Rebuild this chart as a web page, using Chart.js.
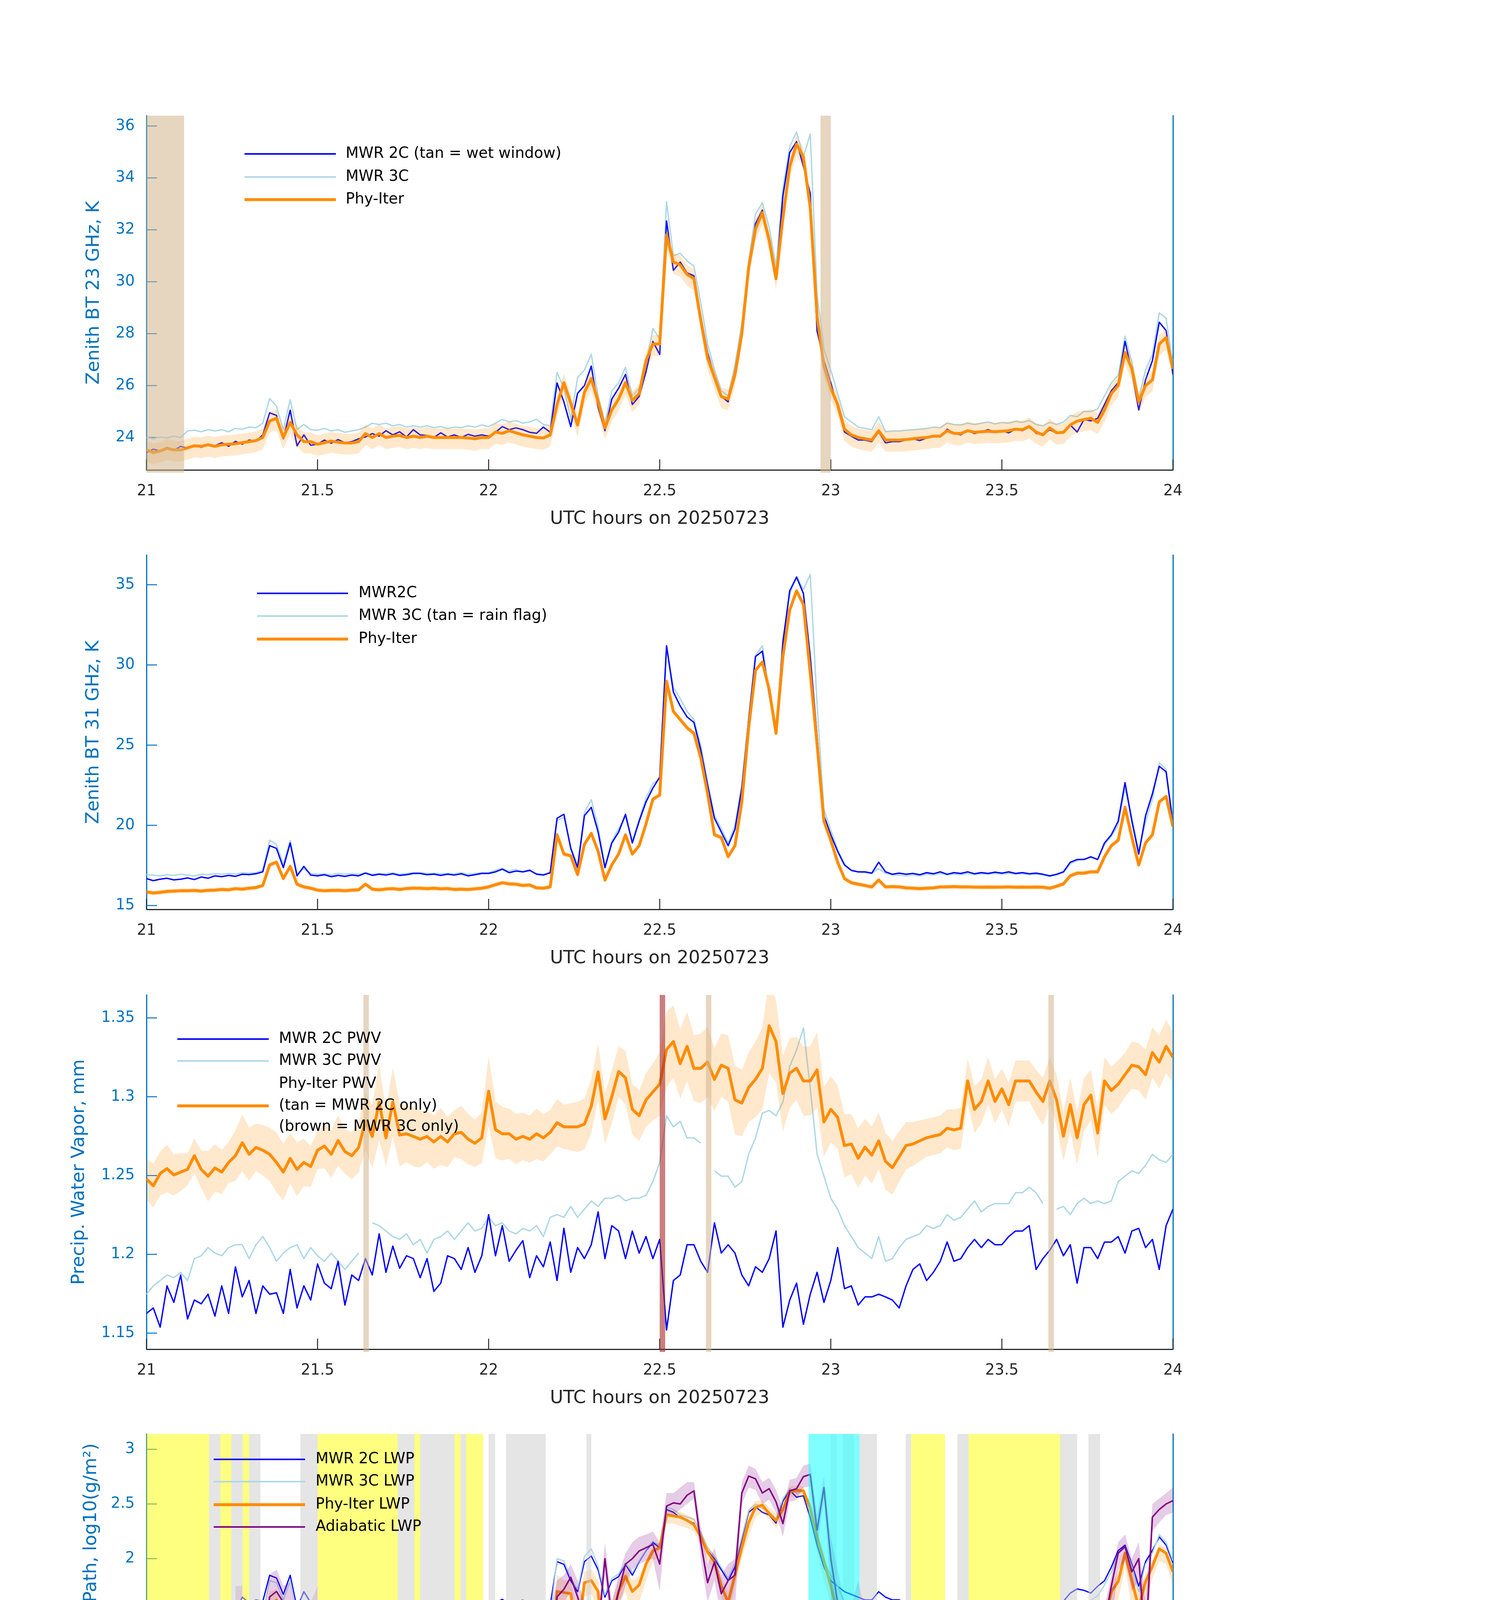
<!DOCTYPE html>
<html>
<head>
<meta charset="utf-8">
<title>MWR / Phy-Iter comparison, 20250723</title>
<script src="https://cdn.jsdelivr.net/npm/chart.js@4.4.1/dist/chart.umd.min.js"></script>
<style>
  html, body { margin: 0; padding: 0; background: #fff; }
  body { width: 3825px; height: 6000px; position: relative; overflow: hidden; }
  .panel { position: absolute; left: 0; width: 3825px; height: 1125px; }
</style>
</head>
<body>
<div class="panel" style="top:236px"><canvas id="bt23"></canvas></div>
<div class="panel" style="top:1361px"><canvas id="bt31"></canvas></div>
<div class="panel" style="top:2487px"><canvas id="pwv"></canvas></div>
<div class="panel" style="top:3611px"><canvas id="lwp"></canvas></div>
<div class="panel" style="top:4735px"><canvas id="dq"></canvas></div>
<script>
const _ = null;

// sample grid of the MWR / Phy-Iter series (hours UTC)
const T0 = 21, DT = 0.02;
// DQ flag grid (45 s)
const DQ_T0 = 21.00625, DQ_DT = 0.0125;

const hourTicks = [21, 21.5, 22, 22.5, 23, 23.5, 24];

// ---- 23 GHz brightness temperature, K
const bt23Mwr2c = [
  23.42,23.55,23.48,23.62,23.50,23.66,23.58,23.70,23.62,23.72,
  23.68,23.80,23.66,23.85,23.74,23.90,23.86,24.10,24.95,24.85,
  23.95,25.05,23.68,24.10,23.70,23.74,23.90,23.78,23.92,23.80,
  23.84,23.95,24.02,24.15,24.05,24.26,24.10,24.22,24.02,24.30,
  24.10,24.08,24.00,24.18,24.02,24.10,24.00,24.12,24.05,24.10,
  24.05,24.20,24.42,24.30,24.37,24.30,24.20,24.16,24.40,24.20,
  26.10,25.37,24.42,25.70,26.00,26.75,25.16,24.26,25.48,25.90,
  26.43,25.27,25.58,26.53,27.70,27.20,32.34,30.44,30.76,30.34,
  30.23,28.65,27.27,26.32,25.58,25.37,26.53,28.00,30.55,32.24,
  32.76,31.60,30.12,33.30,34.98,35.40,34.45,33.40,28.10,26.96,
  26.11,25.16,24.21,24.05,23.90,23.90,23.84,24.21,23.79,23.84,
  23.84,23.90,23.95,23.88,23.98,24.05,24.02,24.32,24.16,24.10,
  24.26,24.15,24.22,24.30,24.20,24.26,24.18,24.32,24.26,24.42,
  24.16,24.10,24.30,24.16,24.21,24.48,24.21,24.69,24.64,24.74,
  25.27,25.80,26.11,27.70,26.53,25.06,26.22,26.96,28.44,28.12,
  26.43];
const bt23Mwr3c = [
  24.00,23.95,24.02,23.98,24.05,24.00,24.25,24.28,24.22,24.30,
  24.25,24.30,24.22,24.35,24.32,24.40,24.38,24.55,25.50,25.20,
  24.30,25.45,24.30,24.50,24.30,24.28,24.35,24.25,24.30,24.20,
  24.25,24.30,24.40,24.55,24.50,24.55,24.45,24.50,24.40,24.45,
  24.40,24.45,24.38,24.42,24.35,24.40,24.38,24.45,24.40,24.48,
  24.42,24.55,24.70,24.60,24.65,24.55,24.60,24.70,24.50,24.45,
  26.50,25.90,24.70,26.30,26.60,27.20,25.60,24.55,25.80,26.10,
  26.70,25.60,25.90,26.80,28.20,27.80,33.08,31.00,31.10,30.80,
  30.60,29.20,27.60,26.60,25.80,25.60,26.80,28.40,30.80,32.60,
  33.05,32.10,30.60,33.60,35.20,35.77,34.80,35.70,29.50,27.40,
  26.60,25.70,24.80,24.60,24.40,24.35,24.30,24.80,24.22,24.25,
  24.25,24.28,24.30,24.32,24.35,24.40,24.38,24.55,24.50,24.48,
  24.55,24.50,24.55,24.60,24.52,24.58,24.55,24.62,24.58,24.65,
  24.50,24.45,24.58,24.50,24.60,24.85,24.80,25.00,25.00,25.10,
  25.60,26.10,26.40,27.90,26.90,25.50,26.60,27.20,28.80,28.60,
  26.80];
const bt23Phy = [
  23.52,23.42,23.48,23.58,23.52,23.52,23.60,23.68,23.66,23.72,
  23.66,23.72,23.74,23.76,23.80,23.84,23.88,24.00,24.63,24.74,
  24.00,24.58,24.10,23.84,23.84,23.74,23.80,23.86,23.82,23.79,
  23.79,23.84,24.15,24.00,24.15,24.00,24.05,24.08,24.00,24.05,
  24.00,24.05,24.00,24.00,24.00,24.00,24.00,23.98,23.95,24.00,
  24.00,24.21,24.16,24.26,24.18,24.10,24.05,24.00,23.98,24.10,
  25.27,26.11,25.32,24.48,25.74,26.27,25.37,24.37,25.06,25.48,
  26.11,25.43,25.69,26.96,27.60,27.60,31.80,30.76,30.65,30.28,
  30.12,28.54,27.06,26.32,25.58,25.48,26.43,28.00,30.55,32.03,
  32.66,31.60,30.12,32.45,34.45,35.30,34.80,32.87,28.65,26.75,
  25.90,25.27,24.32,24.10,24.00,23.95,23.90,24.26,23.90,23.90,
  23.90,23.92,23.95,23.98,24.00,24.05,24.05,24.26,24.16,24.15,
  24.26,24.20,24.22,24.24,24.22,24.24,24.26,24.32,24.30,24.42,
  24.21,24.10,24.37,24.18,24.20,24.48,24.63,24.69,24.74,24.58,
  25.06,25.69,26.00,27.27,26.64,25.37,26.00,26.22,27.60,27.85,
  26.64];
const bt23UncUp = 0.35, bt23UncDown = 0.45;
const bt23WetWindow = [[21.0, 21.11], [22.97, 23.0]];

// ---- 31 GHz brightness temperature, K
const bt31Mwr2c = [
  16.68,16.55,16.64,16.70,16.60,16.64,16.72,16.62,16.78,16.70,
  16.85,16.80,16.88,16.82,16.95,16.93,16.98,17.10,18.73,18.56,
  17.36,18.90,16.85,17.44,16.90,16.85,16.92,16.80,16.88,16.82,
  16.90,16.85,17.02,16.88,16.95,16.90,16.98,16.88,16.92,17.00,
  17.00,16.92,16.96,16.88,16.95,16.90,16.98,16.85,16.92,17.00,
  17.00,17.10,17.27,17.05,17.15,17.10,17.20,16.95,16.90,17.05,
  20.44,20.69,18.56,17.36,20.60,21.12,19.58,17.36,18.90,19.58,
  20.69,18.90,20.26,21.46,22.32,23.00,31.20,28.30,27.44,26.76,
  26.42,24.71,22.49,20.44,19.58,18.73,19.75,22.32,26.59,30.52,
  30.86,28.13,25.74,31.38,34.62,35.48,34.45,30.52,25.56,20.60,
  19.41,18.38,17.53,17.19,17.10,17.10,17.02,17.70,17.10,16.95,
  17.02,16.95,17.00,16.92,17.05,16.98,17.10,16.95,17.05,17.00,
  17.10,16.98,17.05,17.00,17.08,17.02,17.10,17.00,17.05,16.98,
  17.02,16.95,16.85,16.95,17.10,17.70,17.87,17.87,18.04,17.87,
  18.90,19.41,20.26,22.66,20.26,18.21,20.60,21.97,23.68,23.34,
  20.09];
const bt31Mwr3c = [
  16.93,16.90,16.85,16.92,16.88,16.95,16.90,16.85,16.95,16.92,
  16.98,16.95,17.00,16.95,17.05,17.02,17.05,17.20,19.07,18.80,
  17.60,19.05,17.00,17.30,17.00,16.95,16.98,16.92,17.00,16.95,
  16.98,16.95,17.05,16.95,17.00,16.98,17.05,16.95,17.00,17.05,
  17.05,17.00,17.02,16.98,17.00,16.98,17.05,16.95,17.00,17.05,
  17.05,17.20,17.30,17.15,17.25,17.10,17.15,17.00,16.95,17.00,
  20.30,20.50,18.70,17.50,20.80,21.60,19.90,17.50,19.00,19.80,
  20.50,19.00,20.40,21.70,22.60,22.90,31.00,28.60,27.90,27.10,
  26.60,25.00,22.70,20.60,19.80,18.90,20.00,22.50,26.70,30.60,
  31.20,28.40,26.00,31.60,34.40,35.50,34.70,35.65,27.50,21.00,
  19.70,18.50,17.60,17.20,17.10,17.05,17.00,17.30,17.00,16.90,
  16.90,16.85,16.90,16.85,16.95,16.90,17.00,16.90,16.95,16.92,
  17.00,16.92,16.98,16.95,17.00,16.95,17.00,16.95,16.98,16.92,
  16.95,16.90,16.82,16.90,17.05,17.60,17.80,17.90,18.00,17.90,
  18.80,19.30,20.00,22.30,20.50,18.40,20.20,21.60,23.90,23.50,
  20.30];
const bt31Phy = [
  15.85,15.78,15.82,15.88,15.90,15.92,15.92,15.94,15.90,15.95,
  15.96,16.00,15.98,16.05,16.02,16.08,16.12,16.25,17.53,17.70,
  16.68,17.44,16.33,16.16,16.08,15.96,15.92,15.94,15.95,15.92,
  15.96,15.98,16.33,16.02,15.98,16.03,16.05,16.00,16.06,16.08,
  16.08,16.05,16.08,16.04,16.06,16.00,16.02,16.00,16.04,16.08,
  16.16,16.30,16.42,16.35,16.33,16.25,16.28,16.10,16.08,16.16,
  19.41,18.21,18.10,16.93,18.81,19.50,18.38,16.59,17.53,18.21,
  19.41,18.21,18.73,20.09,21.63,21.89,28.98,27.10,26.59,26.08,
  25.74,24.20,21.97,19.41,19.24,18.04,18.73,21.46,26.08,29.67,
  30.18,28.47,25.74,30.52,33.43,34.62,33.77,29.50,25.05,20.26,
  19.07,17.70,16.68,16.42,16.33,16.25,16.16,16.59,16.16,16.18,
  16.16,16.10,16.08,16.05,16.08,16.10,16.16,16.16,16.18,16.16,
  16.16,16.15,16.14,16.15,16.14,16.15,16.16,16.14,16.15,16.14,
  16.15,16.14,16.08,16.20,16.35,16.85,17.02,17.02,17.10,17.10,
  18.04,18.73,19.07,21.12,19.24,17.53,18.90,19.41,21.46,21.80,
  19.92];
const bt31Unc = 0.15;

// ---- precipitable water vapour, mm
const pwvMwr2c = [
  1.1625,1.1660,1.1538,1.1800,1.1695,1.1869,1.1590,1.1710,1.1686,1.1747,
  1.1608,1.1800,1.1625,1.1921,1.1730,1.1834,1.1625,1.1800,1.1747,1.1756,
  1.1625,1.1904,1.1660,1.1800,1.1710,1.1939,1.1817,1.1782,1.1956,1.1678,
  1.1869,1.1834,1.1973,1.1869,1.2130,1.1886,1.2052,1.1912,1.1991,1.1973,
  1.1852,1.1973,1.1765,1.1817,1.1991,1.1973,1.1904,1.2043,1.1886,1.1991,
  1.2252,1.1991,1.2182,1.1956,1.2026,1.2087,1.1852,1.1991,1.1921,1.2078,
  1.1834,1.2165,1.1886,1.2043,1.1973,1.2061,1.2269,1.1973,1.2182,1.2148,
  1.1973,1.2148,1.2008,1.2113,1.1973,1.2095,1.1520,1.1834,1.1869,1.2061,
  1.2061,1.1956,1.1886,1.2200,1.2008,1.2061,1.2008,1.1869,1.1800,1.1921,
  1.1886,1.1973,1.2148,1.1538,1.1710,1.1817,1.1556,1.1747,1.1886,1.1695,
  1.1834,1.2043,1.1782,1.1800,1.1678,1.1730,1.1730,1.1747,1.1730,1.1710,
  1.1660,1.1800,1.1904,1.1939,1.1834,1.1886,1.1956,1.2078,1.1956,1.1973,
  1.2043,1.2095,1.2043,1.2095,1.2061,1.2061,1.2113,1.2148,1.2148,1.2182,
  1.1904,1.1973,1.2026,1.2095,1.1991,1.2061,1.1817,1.2043,1.2043,1.1973,
  1.2078,1.2078,1.2113,1.2008,1.2148,1.2165,1.2043,1.2095,1.1904,1.2182,
  1.2287];
const pwvMwr3c = [
  1.1747,1.1800,1.1834,1.1869,1.1852,1.1886,1.1834,1.1973,1.1991,1.2043,
  1.2008,1.1991,1.2043,1.2061,1.2061,1.1973,1.2061,1.2113,1.2043,1.1956,
  1.2008,1.2043,1.2061,1.1973,1.2043,1.1991,1.1956,1.2008,1.1956,1.1904,
  1.1956,1.2008,_,1.2200,1.2182,1.2148,1.2113,1.2095,1.2130,1.2061,
  1.2095,1.2008,1.2095,1.2113,1.2148,1.2095,1.2148,1.2200,1.2148,1.2165,
  1.2235,1.2182,1.2200,1.2148,1.2130,1.2165,1.2148,1.2182,1.2113,1.2235,
  1.2252,1.2235,1.2304,1.2235,1.2287,1.2339,1.2304,1.2356,1.2356,1.2374,
  1.2339,1.2356,1.2356,1.2374,1.2461,1.2583,1.2879,1.2809,1.2844,1.2739,
  1.2739,1.2705,_,1.2530,1.2496,1.2496,1.2426,1.2461,1.2635,1.2739,
  1.2896,1.2913,1.2879,1.2966,1.3192,1.3296,1.3436,1.3053,1.2635,1.2496,
  1.2356,1.2287,1.2182,1.2113,1.2043,1.2008,1.1973,1.2113,1.1956,1.1973,
  1.2043,1.2095,1.2113,1.2130,1.2182,1.2165,1.2182,1.2252,1.2217,1.2235,
  1.2287,1.2339,1.2269,1.2304,1.2322,1.2322,1.2322,1.2391,1.2391,1.2426,
  1.2391,1.2322,_,1.2287,1.2304,1.2252,1.2322,1.2356,1.2322,1.2339,
  1.2322,1.2339,1.2461,1.2496,1.2530,1.2513,1.2565,1.2635,1.2600,1.2583,
  1.2635];
const pwvPhy = [
  1.2478,1.2435,1.2513,1.2544,1.2504,1.2522,1.2539,1.2626,1.2539,1.2496,
  1.2548,1.2522,1.2583,1.2626,1.2708,1.2635,1.2678,1.2661,1.2635,1.2583,
  1.2522,1.2609,1.2539,1.2583,1.2557,1.2661,1.2687,1.2635,1.2722,1.2652,
  1.2626,1.2678,1.2844,1.2748,1.2966,1.2739,1.2966,1.2757,1.2765,1.2748,
  1.2731,1.2748,1.2713,1.2748,1.2713,1.2765,1.2774,1.2731,1.2705,1.2739,
  1.3035,1.2792,1.2765,1.2765,1.2731,1.2748,1.2731,1.2765,1.2739,1.2774,
  1.2835,1.2809,1.2809,1.2809,1.2826,1.2940,1.3157,1.2860,1.3000,1.3160,
  1.3120,1.2920,1.2880,1.2980,1.3030,1.3080,1.3300,1.3350,1.3210,1.3320,
  1.3180,1.3180,1.3220,1.3110,1.3200,1.3180,1.2980,1.2960,1.3060,1.3110,
  1.3180,1.3450,1.3350,1.3020,1.3150,1.3180,1.3100,1.3100,1.3170,1.2840,
  1.2920,1.2870,1.2690,1.2700,1.2610,1.2680,1.2630,1.2720,1.2590,1.2550,
  1.2620,1.2690,1.2700,1.2720,1.2740,1.2750,1.2760,1.2800,1.2790,1.2800,
  1.3100,1.2920,1.2970,1.3100,1.2970,1.3050,1.2950,1.3100,1.3100,1.3100,
  1.3030,1.2970,1.3100,1.2980,1.2750,1.2950,1.2740,1.2950,1.3010,1.2770,
  1.3100,1.3040,1.3080,1.3140,1.3200,1.3190,1.3140,1.3280,1.3220,1.3320,
  1.3250];
const pwvPhyUnc = [
  .013,.014,.014,.015,.013,.012,.010,.011,.012,.016,
  .015,.014,.013,.016,.018,.017,.015,.016,.017,.019,
  .018,.016,.017,.015,.013,.012,.014,.015,.016,.014,
  .015,.016,.018,.020,.024,.018,.022,.020,.018,.019,
  .018,.016,.017,.018,.016,.015,.017,.016,.015,.016,
  .022,.018,.017,.016,.016,.015,.015,.016,.015,.014,
  .015,.014,.015,.016,.016,.017,.018,.016,.017,.016,
  .017,.016,.016,.017,.018,.020,.024,.023,.022,.022,
  .021,.022,.022,.020,.020,.021,.022,.021,.022,.024,
  .026,.030,.026,.024,.022,.020,.022,.022,.024,.022,
  .021,.020,.020,.019,.019,.018,.018,.018,.018,.017,
  .016,.015,.014,.013,.012,.012,.012,.012,.013,.013,
  .014,.015,.014,.015,.014,.013,.014,.013,.013,.013,
  .014,.015,.015,.016,.016,.017,.017,.017,.016,.016,
  .015,.015,.015,.014,.015,.015,.016,.016,.017,.017,
  .016];
const pwvOnly2c = [[21.634, 21.650], [22.635, 22.651], [23.636, 23.652]];
const pwvOnly3c = [[22.500, 22.516]];

// ---- log10 liquid water path, log10(g/m2)
const lwpMwr2c = [
  1.548,1.523,1.585,1.523,1.548,1.485,1.585,1.548,1.560,1.598,
  1.585,1.560,1.585,1.523,1.648,1.598,1.623,1.610,1.848,1.823,
  1.673,1.848,1.548,1.698,1.598,1.548,1.523,1.535,1.535,1.548,
  1.598,1.548,1.585,1.548,1.560,1.573,1.560,1.585,1.573,1.548,
  1.585,1.573,1.523,1.598,1.548,1.573,1.573,1.535,1.585,1.548,
  1.548,1.598,1.628,1.585,1.598,1.623,1.573,1.548,1.585,1.573,
  1.973,1.948,1.798,1.698,1.973,2.024,1.898,1.648,1.798,1.836,
  1.948,1.848,1.973,2.074,2.149,2.099,2.449,2.424,2.374,2.349,
  2.324,2.199,2.074,1.998,1.898,1.798,1.923,2.174,2.424,2.474,
  2.424,2.399,2.324,2.524,2.625,2.562,2.575,2.374,2.124,1.923,
  1.798,1.748,1.698,1.673,1.648,1.623,1.623,1.698,1.648,1.623,
  1.623,1.598,1.610,1.598,1.573,1.610,1.585,1.598,1.610,1.598,
  1.585,1.598,1.585,1.598,1.610,1.573,1.585,1.598,1.585,1.548,
  1.598,1.548,1.598,1.548,1.610,1.685,1.723,1.710,1.685,1.748,
  1.798,1.923,2.074,2.124,1.948,1.748,1.973,2.074,2.199,2.124,
  1.961];
const lwpMwr3c = [
  1.43,1.41,1.42,1.40,1.43,1.41,1.42,1.40,1.43,1.42,
  1.43,1.41,1.42,1.44,1.43,1.42,1.45,1.50,1.80,1.78,
  1.62,1.80,1.50,1.52,1.44,1.42,1.41,1.40,1.43,1.41,
  1.42,_,_,1.41,1.43,1.42,1.41,1.43,1.42,1.41,
  1.42,1.43,1.41,1.42,1.40,1.41,1.42,1.41,1.40,1.42,
  1.45,1.47,1.52,1.46,1.48,1.50,1.47,1.45,1.48,1.46,
  2.00,1.98,1.82,1.72,2.02,2.09,1.93,1.67,1.82,1.86,
  1.96,1.87,1.98,2.08,2.16,2.12,2.47,2.45,2.40,2.38,
  2.36,2.24,2.10,2.02,1.92,1.82,1.96,2.20,2.44,2.50,
  2.46,2.43,2.36,2.55,2.64,2.60,2.62,2.50,2.20,1.98,
  1.85,1.75,1.60,1.52,1.52,1.48,1.45,1.50,1.45,1.43,
  1.42,1.43,1.42,1.41,1.43,1.42,1.41,1.42,1.43,1.41,
  1.42,1.41,1.43,1.42,1.41,1.43,1.42,1.41,1.42,1.43,
  1.42,1.41,_,1.45,1.48,1.55,1.58,1.60,1.62,1.66,
  1.76,1.88,2.05,2.10,1.93,1.70,1.95,2.05,2.22,2.15,
  1.98];
const lwpPhy = [
  _,_,_,_,_,_,_,_,_,_,
  0.71,0.45,_,0.13,0.31,_,0.68,0.85,1.57,1.62,
  1.30,1.45,0.78,0.88,0.37,0.21,_,_,_,_,
  _,_,_,_,_,_,_,0.41,0.35,_,
  0.41,0.58,0.33,0.50,0.23,-0.30,_,_,_,_,
  -0.30,0.85,0.87,0.63,0.62,0.74,0.50,-0.30,0.30,0.90,
  1.70,1.69,1.68,1.30,1.78,1.80,1.70,1.00,1.45,1.70,
  1.84,1.70,1.76,1.95,2.07,2.10,2.40,2.39,2.38,2.35,
  2.31,2.20,2.06,1.97,1.75,1.60,1.85,2.10,2.33,2.47,
  2.49,2.41,2.35,2.45,2.61,2.625,2.62,2.46,2.20,1.98,
  1.75,1.50,1.28,1.13,1.05,0.93,0.92,1.14,0.92,0.97,
  0.80,0.60,_,_,_,_,_,0.75,0.64,0.78,
  -0.30,_,_,_,_,_,_,_,_,_,
  _,_,_,_,0.76,0.95,1.25,1.26,1.27,1.30,
  1.42,1.70,1.79,2.05,1.80,1.55,1.79,1.93,2.09,2.05,
  1.88];
const lwpAdiabatic = [
  _,_,_,_,_,_,_,_,_,_,
  1.12,1.13,_,1.49,1.48,_,1.13,1.20,1.65,1.70,
  1.60,1.60,1.30,1.13,1.14,1.50,_,_,_,_,
  _,_,_,_,_,_,_,1.03,1.03,_,
  1.03,1.03,1.035,1.04,1.035,_,_,_,_,_,
  1.07,1.08,1.11,1.035,1.04,1.04,1.25,1.05,1.39,1.10,
  1.65,1.72,1.83,1.65,1.45,1.33,1.335,2.00,1.45,1.70,
  1.95,2.00,2.07,2.10,2.13,1.95,2.48,2.51,2.50,2.58,
  2.62,2.15,1.78,1.97,1.68,1.80,1.85,2.60,2.755,2.73,
  2.60,2.64,2.52,2.32,2.62,2.64,2.75,2.77,2.26,2.65,
  2.00,1.60,1.12,1.12,1.60,1.11,1.11,1.42,1.37,1.45,
  1.26,1.12,_,_,_,_,_,1.20,1.30,1.13,
  1.13,_,_,_,_,_,_,_,_,_,
  _,_,_,_,1.05,1.05,1.10,1.25,1.05,1.05,
  1.40,1.75,2.05,2.11,1.88,2.00,1.21,2.38,2.45,2.50,
  2.53];
const lwpPhyHi = [
  _,_,_,_,_,_,_,_,_,_,
  1.20,1.20,_,1.15,1.15,_,1.20,1.25,1.70,1.72,
  1.45,1.55,1.00,1.05,0.60,0.50,_,_,_,_,
  _,_,_,_,_,_,_,1.22,1.22,1.22,
  1.22,1.22,1.22,1.22,1.22,1.22,_,_,_,_,
  1.30,1.30,1.30,1.30,1.30,1.30,1.30,1.30,1.30,1.20,
  1.85,1.80,1.80,1.50,1.88,1.90,1.80,1.30,1.60,1.80,
  1.92,1.80,1.84,1.98,2.12,2.15,2.45,2.44,2.43,2.40,
  2.37,2.26,2.12,2.03,1.82,1.70,1.92,2.22,2.45,2.53,
  2.53,2.47,2.41,2.53,2.66,2.67,2.66,2.46,2.22,1.98,
  1.85,1.65,1.45,1.40,1.30,1.22,1.22,1.22,1.22,1.22,
  1.22,1.22,_,_,_,_,_,1.00,1.00,1.00,
  1.00,_,_,_,_,_,_,_,_,_,
  _,_,_,_,1.30,1.35,1.45,1.45,1.45,1.45,
  1.55,1.78,1.86,2.10,1.88,1.70,1.86,1.99,2.13,2.10,
  1.95];
const lwpPhyLo = [
  _,_,_,_,_,_,_,_,_,_,
  -0.5,-0.5,_,-0.5,-0.5,_,-0.5,-0.5,1.40,1.45,
  0.90,1.00,-0.5,0.50,-0.5,-0.5,_,_,_,_,
  _,_,_,_,_,_,_,-0.5,-0.5,-0.5,
  -0.5,-0.5,-0.5,-0.5,-0.5,-0.5,_,_,_,_,
  -0.5,-0.5,-0.5,-0.5,-0.5,-0.5,-0.5,-0.5,-0.5,0.30,
  1.40,1.55,1.55,1.00,1.65,1.68,1.55,-0.5,1.20,1.60,
  1.70,1.45,1.60,1.80,1.98,2.02,2.32,2.32,2.30,2.28,
  2.25,2.12,1.98,1.88,1.65,1.45,1.75,2.00,2.20,2.38,
  2.42,2.36,2.28,2.38,2.56,2.57,2.55,2.33,2.05,1.80,
  1.60,1.30,0.90,0.60,-0.5,-0.5,-0.5,-0.5,-0.5,-0.5,
  -0.5,-0.5,_,_,_,_,_,-0.5,-0.5,-0.5,
  -0.5,_,_,_,_,_,_,_,_,_,
  _,_,_,_,-0.5,-0.5,0.30,0.60,0.70,0.90,
  1.00,1.45,1.62,1.92,1.55,0.30,1.60,1.82,1.98,1.95,
  1.75];
const lwpAdiabaticHi = [
  _,_,_,_,_,_,_,_,_,_,
  1.46,1.46,_,1.75,1.75,_,1.45,1.45,1.85,1.90,
  1.75,1.78,1.50,1.55,1.60,1.75,_,_,_,_,
  _,_,_,_,_,_,_,1.385,1.385,1.385,
  1.385,1.385,1.385,1.385,1.385,1.385,_,_,_,_,
  1.52,1.52,1.52,1.52,1.52,1.52,1.52,1.52,1.52,1.52,
  1.80,1.85,1.95,1.80,1.60,1.50,1.50,2.15,1.60,1.85,
  2.05,2.15,2.20,2.22,2.25,2.15,2.60,2.60,2.65,2.70,
  2.70,2.30,1.95,2.10,1.85,1.95,2.00,2.70,2.85,2.82,
  2.70,2.74,2.63,2.45,2.72,2.74,2.85,2.87,2.40,2.75,
  2.20,1.90,1.60,1.55,1.80,1.52,1.52,1.52,1.52,1.52,
  1.52,1.52,_,_,_,_,_,1.585,1.585,1.585,
  1.585,_,_,_,_,_,_,_,_,_,
  _,_,_,_,1.50,1.50,1.50,1.50,1.50,1.50,
  1.55,1.85,2.15,2.22,2.00,2.15,1.60,2.50,2.55,2.60,
  2.65];
const lwpAdiabaticLo = [
  _,_,_,_,_,_,_,_,_,_,
  0.52,0.52,_,0.52,0.52,_,0.52,0.52,1.50,1.55,
  1.45,1.45,1.05,0.55,0.55,0.55,_,_,_,_,
  _,_,_,_,_,_,_,0.433,0.433,0.433,
  0.433,0.433,0.433,0.433,0.433,0.433,_,_,_,_,
  0.45,0.45,0.45,0.45,0.45,0.45,0.45,0.45,0.45,0.45,
  1.50,1.60,1.70,1.50,1.30,1.15,1.15,1.85,1.25,1.55,
  1.75,1.90,1.95,1.98,2.00,1.70,2.40,2.40,2.45,2.50,
  2.55,2.00,1.60,1.80,1.45,1.60,1.55,2.50,2.65,2.63,
  2.50,2.54,2.42,2.20,2.52,2.54,2.65,2.66,2.10,2.55,
  1.70,0.80,0.55,0.55,0.55,0.52,0.52,0.52,0.52,0.52,
  0.52,0.52,_,_,_,_,_,0.53,0.53,0.53,
  0.53,_,_,_,_,_,_,_,_,_,
  _,_,_,_,0.446,0.446,0.446,0.446,0.446,0.446,
  0.90,1.40,1.90,1.98,1.70,1.80,0.75,2.25,2.33,2.40,
  2.42];
// single retrievals surrounded by gaps
const lwpIsoTime = [21.925];
const lwpPhyIso = [0.28];
const lwpAdiabaticIso = [1.034];
// quality windows (hours)
const lwpYellow = [[21.0,21.183],[21.216,21.248],[21.281,21.30],[21.50,21.734],[21.783,21.80],
  [21.90,21.918],[21.934,21.984],[23.235,23.334],[23.403,23.67]];
const lwpGrey = [[21.183,21.216],[21.248,21.281],[21.30,21.333],[21.45,21.50],[21.734,21.783],
  [21.80,21.90],[21.918,21.934],[22.0,22.019],[22.051,22.167],[22.286,22.30],[23.084,23.135],
  [23.219,23.235],[23.37,23.403],[23.67,23.72],[23.753,23.787]];
const lwpCyan = [[22.935,23.084]];
const lwpCyanDeep = [[23.0,23.017],[23.035,23.068]];

// ---- Phy-Iter DQ flag (one slot per 45 s)
const dqFlag = [
  5,5,5,5,5,5,5,5,5,5,5,5,5,5,5,4,4,_,5,5,
  3,3,_,5,4,4,_,0,0,0,0,0,0,0,0,_,4,4,_,3,
  5,5,5,5,5,5,5,5,5,5,5,5,5,5,5,5,5,5,_,4,
  4,4,_,5,4,4,4,4,4,3,4,_,5,4,_,5,5,5,_,0,
  4,_,0,0,4,4,4,4,_,3,4,3,_,0,0,0,0,0,0,0,
  0,0,_,4,0,0,0,0,0,0,0,0,0,0,0,0,0,0,0,0,
  0,0,0,0,0,0,0,0,0,0,0,0,0,0,0,0,0,0,0,0,
  0,0,0,0,0,0,0,0,0,0,0,0,0,0,_,10,10,_,_,_,
  4,_,_,4,4,_,4,4,4,_,_,0,0,0,0,0,_,_,4,5,
  5,5,5,5,5,_,_,0,0,_,4,4,5,5,5,5,5,5,5,5,
  5,5,5,5,5,5,5,5,5,5,5,5,5,_,4,4,4,_,0,0,
  4,4,_,0,0,0,0,0,0,0,0,0,0,0,0,0,0,0,0,0];
// second flag reported over the cyan window
const DQ_SLOT_11 = 155;
const dqFlag11 = [11,11,11,11,11,11,11,11,11,11,11];

// ---------------------------------------------------------------
const BLUE = '#0000ff', LIGHT = '#add8e6', ORANGE = '#ff8c00', PURPLE = '#800080';
const AXIS_BLUE = '#0072bd', AXIS_DARK = '#262626';
const FONT = "'DejaVu Sans', sans-serif";
const TICK_PX = 38.5, LABEL_PX = 46.5, LEGEND_PX = 38.5, TICK_LEN = 27;
const ORANGE_FILL = 'rgba(255,140,0,0.2)', PURPLE_FILL = 'rgba(128,0,128,0.2)';

Chart.defaults.font.family = FONT;
Chart.defaults.animation = false;

const pts = (vals, t0 = T0, dt = DT) => vals.map((v, i) => ({ x: t0 + i * dt, y: v }));
const shift = (vals, d) => vals.map(v => (v === null ? null : v + d));

function line(data, color, width, order, extra) {
  return Object.assign({ data, borderColor: color, borderWidth: width, pointRadius: 0,
    fill: false, order, borderJoinStyle: 'round' }, extra || {});
}
// upper/lower pair, filled between
function band(hi, lo, color, order) {
  return [
    { data: hi, borderWidth: 0, borderColor: 'transparent', pointRadius: 0, fill: '+1', backgroundColor: color, order },
    { data: lo, borderWidth: 0, borderColor: 'transparent', pointRadius: 0, fill: false, order },
  ];
}

// inward ticks, overlay windows, legend
function decor(cfg) {
  return {
    id: 'decor',
    beforeDatasetsDraw(chart) {
      const { ctx, chartArea: a, scales: { x, y } } = chart;
      ctx.save();
      ctx.lineWidth = 2.5;
      ctx.strokeStyle = AXIS_DARK;
      hourTicks.forEach(v => {
        const px = x.getPixelForValue(v);
        ctx.beginPath(); ctx.moveTo(px, a.bottom); ctx.lineTo(px, a.bottom - TICK_LEN); ctx.stroke();
      });
      ctx.strokeStyle = AXIS_BLUE;
      cfg.yTicks.forEach(v => {
        const py = y.getPixelForValue(v);
        ctx.beginPath(); ctx.moveTo(a.left, py); ctx.lineTo(a.left + TICK_LEN, py); ctx.stroke();
      });
      ctx.restore();
    },
    afterDatasetsDraw(chart) {
      const { ctx, chartArea: a, scales: { x } } = chart;
      ctx.save();
      (cfg.windows || []).forEach(w => {
        ctx.fillStyle = w.color;
        w.ranges.forEach(([t0, t1]) => {
          const x0 = x.getPixelForValue(t0), x1 = x.getPixelForValue(t1);
          ctx.fillRect(x0, a.top, x1 - x0, a.bottom - a.top + (w.ext || 0));
        });
      });
      ctx.restore();
    },
    afterDraw(chart) {
      const L = cfg.legend;
      if (!L) return;
      const { ctx, chartArea: a } = chart;
      ctx.save();
      ctx.font = `${LEGEND_PX}px ${FONT}`;
      ctx.textBaseline = 'middle';
      ctx.fillStyle = '#000';
      L.rows.forEach(r => {
        const yy = a.top + r.dy;
        if (r.color) {
          ctx.strokeStyle = r.color; ctx.lineWidth = r.width;
          ctx.beginPath(); ctx.moveTo(L.x0, yy); ctx.lineTo(L.x1, yy); ctx.stroke();
        }
        ctx.fillText(r.text, L.tx, yy);
      });
      ctx.restore();
    },
  };
}

function makeChart(id, cfg) {
  return new Chart(document.getElementById(id), {
    type: 'line',
    data: { datasets: cfg.datasets },
    options: {
      responsive: true, maintainAspectRatio: false, animation: false, devicePixelRatio: 1,
      events: [],
      layout: { padding: { top: 60, right: 782, bottom: 0, left: 0 } },
      plugins: { legend: { display: false }, tooltip: { enabled: false } },
      scales: {
        x: {
          type: 'linear', min: 21, max: 24,
          afterBuildTicks: s => { s.ticks = hourTicks.map(v => ({ value: v })); },
          afterFit: s => { s.height = 158; s.paddingLeft = 0; s.paddingRight = 0; },
          grid: { display: false, drawTicks: false },
          border: { display: true, color: AXIS_DARK, width: 3 },
          ticks: { color: AXIS_DARK, font: { size: TICK_PX }, padding: 32, maxRotation: 0,
                   autoSkip: false, callback: v => String(v) },
          title: { display: true, text: 'UTC hours on 20250723', color: AXIS_DARK,
                   font: { size: LABEL_PX }, padding: { top: 0, bottom: 4 } },
        },
        y: {
          position: 'left', min: cfg.yMin, max: cfg.yMax,
          afterBuildTicks: s => { s.ticks = cfg.yTicks.map(v => ({ value: v })); },
          afterFit: s => { s.width = 375; s.paddingTop = 0; s.paddingBottom = 0; },
          grid: { display: false, drawTicks: false },
          border: { display: true, color: AXIS_BLUE, width: 3 },
          ticks: { color: AXIS_BLUE, font: { size: TICK_PX }, padding: 30, autoSkip: false,
                   callback: v => String(v) },
          title: { display: true, text: cfg.yTitle, color: AXIS_BLUE, font: { size: LABEL_PX },
                   padding: { top: cfg.titleX - 28, bottom: 0 } },
        },
        y2: {
          position: 'right', min: 0, max: 1,
          afterFit: s => { s.width = 40; s.paddingTop = 0; s.paddingBottom = 0; },
          grid: { display: false, drawTicks: false },
          border: { display: true, color: AXIS_BLUE, width: 3 },
          ticks: { display: false },
        },
      },
    },
    plugins: [decor(cfg)],
  });
}

// 23 GHz
makeChart('bt23', {
  yMin: 22.75, yMax: 36.4, yTicks: [24, 26, 28, 30, 32, 34, 36], titleX: 241,
  yTitle: 'Zenith BT 23 GHz, K',
  datasets: [
    line(pts(bt23Mwr3c), LIGHT, 3.5, 6),
    line(pts(bt23Mwr2c), BLUE, 3.5, 5),
    ...band(pts(shift(bt23Phy, bt23UncUp)), pts(shift(bt23Phy, -bt23UncDown)), ORANGE_FILL, 4),
    line(pts(bt23Phy), ORANGE, 7.5, 1),
  ],
  windows: [{ ranges: bt23WetWindow, color: 'rgba(210,180,140,0.55)', ext: 7 }],
  legend: { x0: 626, x1: 860, tx: 885, rows: [
    { dy: 98, text: 'MWR 2C (tan = wet window)', color: BLUE, width: 3.8 },
    { dy: 157, text: 'MWR 3C', color: LIGHT, width: 3.8 },
    { dy: 215, text: 'Phy-Iter', color: ORANGE, width: 7.7 },
  ] },
});

// 31 GHz
makeChart('bt31', {
  yMin: 14.76, yMax: 36.85, yTicks: [15, 20, 25, 30, 35], titleX: 240,
  yTitle: 'Zenith BT 31 GHz, K',
  datasets: [
    line(pts(bt31Mwr3c), LIGHT, 3.5, 6),
    line(pts(bt31Mwr2c), BLUE, 3.5, 5),
    ...band(pts(shift(bt31Phy, bt31Unc)), pts(shift(bt31Phy, -bt31Unc)), ORANGE_FILL, 4),
    line(pts(bt31Phy), ORANGE, 7.5, 1),
  ],
  legend: { x0: 658, x1: 891, tx: 918, rows: [
    { dy: 98, text: 'MWR2C', color: BLUE, width: 3.8 },
    { dy: 156, text: 'MWR 3C (tan = rain flag)', color: LIGHT, width: 3.8 },
    { dy: 215, text: 'Phy-Iter', color: ORANGE, width: 7.7 },
  ] },
});

// PWV
makeChart('pwv', {
  yMin: 1.1398, yMax: 1.3646, yTicks: [1.15, 1.2, 1.25, 1.3, 1.35], titleX: 203,
  yTitle: 'Precip. Water Vapor, mm',
  datasets: [
    line(pts(pwvMwr3c), LIGHT, 3.5, 6),
    line(pts(pwvMwr2c), BLUE, 3.5, 5),
    ...band(pts(pwvPhy.map((v, i) => v + pwvPhyUnc[i])), pts(pwvPhy.map((v, i) => v - pwvPhyUnc[i])), ORANGE_FILL, 4),
    line(pts(pwvPhy), ORANGE, 7.5, 1),
  ],
  windows: [
    { ranges: pwvOnly2c, color: 'rgba(210,180,140,0.55)', ext: 7 },
    { ranges: pwvOnly3c, color: 'rgba(165,42,42,0.6)', ext: 7 },
  ],
  legend: { x0: 454, x1: 688, tx: 714, rows: [
    { dy: 113, text: 'MWR 2C PWV', color: BLUE, width: 3.8 },
    { dy: 169, text: 'MWR 3C PWV', color: LIGHT, width: 3.8 },
    { dy: 228, text: 'Phy-Iter PWV' },
    { dy: 284, text: '(tan = MWR 2C only)', color: ORANGE, width: 7.7 },
    { dy: 338, text: '(brown = MWR 3C only)' },
  ] },
});

// LWP
const isoPts = vals => vals.map((v, i) => ({ x: lwpIsoTime[i], y: v }));
makeChart('lwp', {
  yMin: -0.1, yMax: 3.14, yTicks: [0, 0.5, 1, 1.5, 2, 2.5, 3], titleX: 234,
  yTitle: 'log10 Liquid Water Path, log10(g/m\u00B2)',
  datasets: [
    line(pts(lwpMwr2c), BLUE, 3.2, 8),
    line(pts(lwpMwr3c), LIGHT, 3.2, 7),
    ...band(pts(lwpPhyHi), pts(lwpPhyLo), ORANGE_FILL, 6),
    line(pts(lwpPhy), ORANGE, 7, 5),
    ...band(pts(lwpAdiabaticHi), pts(lwpAdiabaticLo), PURPLE_FILL, 4),
    line(pts(lwpAdiabatic), PURPLE, 3.8, 3),
    line(isoPts(lwpPhyIso), ORANGE, 0, 2, { showLine: false, pointStyle: 'crossRot', pointRadius: 12,
      pointBorderWidth: 5, pointBorderColor: ORANGE }),
    line(isoPts(lwpAdiabaticIso), PURPLE, 0, 2, { showLine: false, pointStyle: 'crossRot', pointRadius: 12,
      pointBorderWidth: 5, pointBorderColor: PURPLE }),
  ],
  windows: [
    { ranges: lwpYellow, color: 'rgba(255,255,0,0.5)' },
    { ranges: lwpGrey, color: 'rgba(204,204,204,0.5)', ext: 7 },
    { ranges: lwpCyan, color: 'rgba(0,255,255,0.5)' },
    { ranges: lwpCyanDeep, color: 'rgba(0,150,150,0.08)' },
  ],
  legend: { x0: 547, x1: 781, tx: 808, rows: [
    { dy: 65, text: 'MWR 2C LWP', color: BLUE, width: 3.8 },
    { dy: 122, text: 'MWR 3C LWP', color: LIGHT, width: 3.8 },
    { dy: 181, text: 'Phy-Iter LWP', color: ORANGE, width: 7.7 },
    { dy: 238, text: 'Adiabatic LWP', color: PURPLE, width: 4 },
  ] },
});

// DQ flag
makeChart('dq', {
  yMin: -0.5, yMax: 11.5, yTicks: [0, 2, 4, 6, 8, 10], titleX: 242,
  yTitle: 'MWR Phy Iter DQ Flag',
  datasets: [
    line(pts(dqFlag, DQ_T0, DQ_DT), ORANGE, 0, 2, { showLine: false, pointRadius: 4,
      pointBackgroundColor: ORANGE, pointBorderWidth: 0 }),
    line(pts(dqFlag11, DQ_T0 + DQ_SLOT_11 * DQ_DT, DQ_DT), ORANGE, 0, 1, { showLine: false, pointRadius: 4,
      pointBackgroundColor: ORANGE, pointBorderWidth: 0 }),
  ],
});
</script>
</body>
</html>
